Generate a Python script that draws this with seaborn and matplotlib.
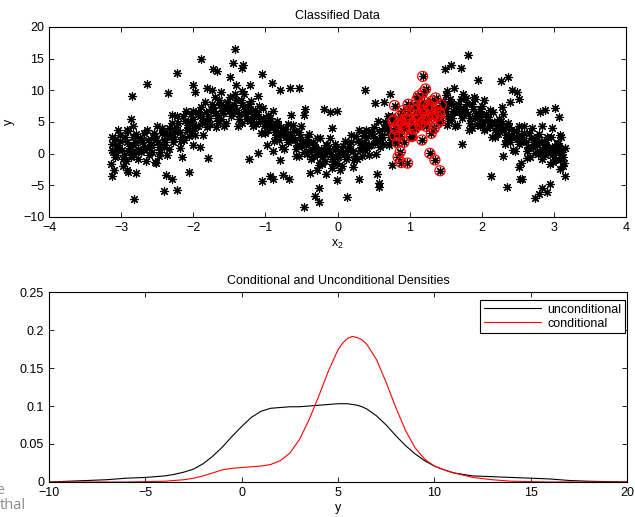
import numpy as np
import pandas as pd
import matplotlib
matplotlib.use("Agg")
import matplotlib.pyplot as plt
import seaborn as sns

# ---------------- scatter data: x_2 versus y ----------------
band_x = [
    -3.14, -3.08, -3.11, -3.06, -3.13, -3.09, -3.07, -3.12,
    -2.97, -3.04, -2.99, -3.02, -2.96, -3.01, -3.03, -2.98,
    -2.92, -2.86, -2.94, -2.89, -2.88, -2.93, -2.90, -2.87,
    -2.79, -2.83, -2.77, -2.84, -2.80, -2.76, -2.81, -2.82,
    -2.74, -2.68, -2.71, -2.66, -2.73, -2.69, -2.67, -2.72,
    -2.57, -2.64, -2.59, -2.62, -2.56, -2.61, -2.63, -2.58,
    -2.52, -2.46, -2.54, -2.49, -2.48, -2.53, -2.50, -2.47,
    -2.39, -2.43, -2.37, -2.44, -2.40, -2.36, -2.41, -2.42,
    -2.34, -2.28, -2.31, -2.26, -2.33, -2.29, -2.27, -2.32,
    -2.17, -2.24, -2.19, -2.22, -2.16, -2.21, -2.23, -2.18,
    -2.12, -2.06, -2.14, -2.09, -2.08, -2.13, -2.10, -2.07,
    -1.99, -2.03, -1.97, -2.04, -2.00, -1.96, -2.01, -2.02,
    -1.94, -1.88, -1.91, -1.86, -1.93, -1.89, -1.87, -1.92,
    -1.77, -1.84, -1.79, -1.82, -1.76, -1.81, -1.83, -1.78,
    -1.72, -1.66, -1.74, -1.69, -1.68, -1.73, -1.70, -1.67,
    -1.59, -1.63, -1.57, -1.64, -1.60, -1.56, -1.61, -1.62,
    -1.54, -1.48, -1.51, -1.46, -1.53, -1.49, -1.47, -1.52,
    -1.37, -1.44, -1.39, -1.42, -1.36, -1.41, -1.43, -1.38,
    -1.32, -1.26, -1.34, -1.29, -1.28, -1.33, -1.30, -1.27,
    -1.19, -1.23, -1.17, -1.24, -1.20, -1.16, -1.21, -1.22,
    -1.14, -1.08, -1.11, -1.06, -1.13, -1.09, -1.07, -1.12,
    -0.97, -1.04, -0.99, -1.02, -0.96, -1.01, -1.03, -0.98,
    -0.92, -0.86, -0.94, -0.89, -0.88, -0.93, -0.90, -0.87,
    -0.79, -0.83, -0.77, -0.84, -0.80, -0.76, -0.81, -0.82,
    -0.74, -0.68, -0.71, -0.66, -0.73, -0.69, -0.67, -0.72,
    -0.57, -0.64, -0.59, -0.62, -0.56, -0.61, -0.63, -0.58,
    -0.52, -0.46, -0.54, -0.49, -0.48, -0.53, -0.50, -0.47,
    -0.39, -0.43, -0.37, -0.44, -0.40, -0.36, -0.41, -0.42,
    -0.34, -0.28, -0.31, -0.26, -0.33, -0.29, -0.27, -0.32,
    -0.17, -0.24, -0.19, -0.22, -0.16, -0.21, -0.23, -0.18,
    -0.12, -0.06, -0.14, -0.09, -0.08, -0.13, -0.10, -0.07,
    0.01, -0.03, 0.03, -0.04, 0.00, 0.04, -0.01, -0.02,
    0.06, 0.12, 0.09, 0.14, 0.07, 0.11, 0.13, 0.08,
    0.23, 0.16, 0.21, 0.18, 0.24, 0.19, 0.17, 0.22,
    0.28, 0.34, 0.26, 0.31, 0.32, 0.27, 0.30, 0.33,
    0.41, 0.37, 0.43, 0.36, 0.40, 0.44, 0.39, 0.38,
    0.46, 0.52, 0.49, 0.54, 0.47, 0.51, 0.53, 0.48,
    0.63, 0.56, 0.61, 0.58, 0.64, 0.59, 0.57, 0.62,
    0.68, 0.74, 0.66, 0.71, 0.72, 0.67, 0.70, 0.73,
    0.81, 0.77, 0.83, 0.76, 0.80, 0.84, 0.79, 0.78,
    0.86, 0.92, 0.89, 0.94, 0.87, 0.91, 0.93, 0.88,
    1.03, 0.96, 1.01, 0.98, 1.04, 0.99, 0.97, 1.02,
    1.08, 1.14, 1.06, 1.11, 1.12, 1.07, 1.10, 1.13,
    1.21, 1.17, 1.23, 1.16, 1.20, 1.24, 1.19, 1.18,
    1.26, 1.32, 1.29, 1.34, 1.27, 1.31, 1.33, 1.28,
    1.43, 1.36, 1.41, 1.38, 1.44, 1.39, 1.37, 1.42,
    1.48, 1.54, 1.46, 1.51, 1.52, 1.47, 1.50, 1.53,
    1.61, 1.57, 1.63, 1.56, 1.60, 1.64, 1.59, 1.58,
    1.66, 1.72, 1.69, 1.74, 1.67, 1.71, 1.73, 1.68,
    1.83, 1.76, 1.81, 1.78, 1.84, 1.79, 1.77, 1.82,
    1.88, 1.94, 1.86, 1.91, 1.92, 1.87, 1.90, 1.93,
    2.01, 1.97, 2.03, 1.96, 2.00, 2.04, 1.99, 1.98,
    2.06, 2.12, 2.09, 2.14, 2.07, 2.11, 2.13, 2.08,
    2.23, 2.16, 2.21, 2.18, 2.24, 2.19, 2.17, 2.22,
    2.28, 2.34, 2.26, 2.31, 2.32, 2.27, 2.30, 2.33,
    2.41, 2.37, 2.43, 2.36, 2.40, 2.44, 2.39, 2.38,
    2.46, 2.52, 2.49, 2.54, 2.47, 2.51, 2.53, 2.48,
    2.63, 2.56, 2.61, 2.58, 2.64, 2.59, 2.57, 2.62,
    2.68, 2.74, 2.66, 2.71, 2.72, 2.67, 2.70, 2.73,
    2.81, 2.77, 2.83, 2.76, 2.80, 2.84, 2.79, 2.78,
    2.86, 2.92, 2.89, 2.94, 2.87, 2.91, 2.93, 2.88,
    3.03, 2.96, 3.01, 2.98, 3.04, 2.99, 2.97, 3.02,
    3.08, 3.14, 3.06, 3.11, 3.12, 3.07, 3.10, 3.13,
]
band_y = [
    -1.7, -0.6, 0.2, 0.9, 1.5, 2.3, -0.2, 0.6,
    -0.9, 1.3, 0.5, 3.0, -0.2, 2.0, 0.7, -2.0,
    1.8, -0.5, 2.6, 0.4, 1.2, -1.1, 3.5, 0.8,
    0.3, 2.6, -0.8, 1.3, 3.1, 0.7, 1.8, -0.1,
    2.5, 0.7, 1.8, -1.1, 0.3, 3.2, 1.1, 2.1,
    0.3, 3.8, 1.6, 0.9, 2.7, -0.2, 2.2, 1.3,
    2.2, 0.2, 3.3, 1.8, -0.4, 2.8, 4.3, 1.0,
    1.9, 3.2, -0.2, 4.0, 2.2, 2.8, 1.0, 3.4,
    0.8, 1.9, 2.7, 3.4, 4.0, 4.8, 2.3, 3.1,
    2.0, 4.2, 3.4, 5.9, 2.7, 4.9, 3.6, 0.9,
    5.1, 2.8, 5.9, 3.7, 4.5, 2.2, 6.8, 4.1,
    4.0, 6.3, 2.9, 5.0, 6.8, 4.4, 5.5, 3.6,
    6.6, 4.8, 5.9, 3.0, 4.4, 7.3, 5.2, 6.2,
    4.7, 8.2, 6.0, 5.3, 7.1, 4.2, 6.6, 5.7,
    6.8, 4.8, 7.9, 6.4, 4.2, 7.4, 8.9, 5.6,
    6.4, 7.7, 4.3, 8.5, 6.7, 7.3, 5.5, 7.9,
    4.9, 6.0, 6.8, 7.5, 8.1, 8.9, 6.4, 7.2,
    5.5, 7.7, 6.9, 9.4, 6.2, 8.4, 7.1, 4.4,
    7.7, 5.4, 8.5, 6.3, 7.1, 4.8, 9.4, 6.7,
    5.5, 7.8, 4.4, 6.5, 8.3, 5.9, 7.0, 5.1,
    6.9, 5.1, 6.2, 3.3, 4.7, 7.6, 5.5, 6.5,
    3.7, 7.2, 5.0, 4.3, 6.1, 3.2, 5.6, 4.7,
    4.6, 2.6, 5.7, 4.2, 2.0, 5.2, 6.7, 3.4,
    3.1, 4.4, 1.0, 5.2, 3.4, 4.0, 2.2, 4.6,
    0.7, 1.8, 2.6, 3.3, 3.9, 4.7, 2.2, 3.0,
    0.7, 2.9, 2.1, 4.6, 1.4, 3.6, 2.3, -0.4,
    2.6, 0.3, 3.4, 1.2, 2.0, -0.3, 4.3, 1.6,
    0.3, 2.6, -0.8, 1.3, 3.1, 0.7, 1.8, -0.1,
    1.8, 0.0, 1.1, -1.8, -0.4, 2.5, 0.4, 1.4,
    -1.1, 2.4, 0.2, -0.5, 1.3, -1.6, 0.8, -0.1,
    0.3, -1.7, 1.4, -0.1, -2.3, 0.9, 2.4, -0.9,
    -0.5, 0.8, -2.6, 1.6, -0.2, 0.4, -1.4, 1.0,
    -2.0, -0.9, -0.1, 0.6, 1.2, 2.0, -0.5, 0.3,
    -1.0, 1.2, 0.4, 2.9, -0.3, 1.9, 0.6, -2.1,
    2.0, -0.3, 2.8, 0.6, 1.4, -0.9, 3.7, 1.0,
    0.9, 3.2, -0.2, 1.9, 3.7, 1.3, 2.4, 0.5,
    3.5, 1.7, 2.8, -0.1, 1.3, 4.2, 2.1, 3.1,
    1.6, 5.1, 2.9, 2.2, 4.0, 1.1, 3.5, 2.6,
    3.9, 1.9, 5.0, 3.5, 1.3, 4.5, 6.0, 2.7,
    3.8, 5.1, 1.7, 5.9, 4.1, 4.7, 2.9, 5.3,
    2.8, 3.9, 4.7, 5.4, 6.0, 6.8, 4.3, 5.1,
    3.9, 6.1, 5.3, 7.8, 4.6, 6.8, 5.5, 2.8,
    6.8, 4.5, 7.6, 5.4, 6.2, 3.9, 8.5, 5.8,
    5.4, 7.7, 4.3, 6.4, 8.2, 5.8, 6.9, 5.0,
    7.6, 5.8, 6.9, 4.0, 5.4, 8.3, 6.2, 7.2,
    5.3, 8.8, 6.6, 5.9, 7.7, 4.8, 7.2, 6.3,
    7.2, 5.2, 8.3, 6.8, 4.6, 7.8, 9.3, 6.0,
    6.5, 7.8, 4.4, 8.6, 6.8, 7.4, 5.6, 8.0,
    4.6, 5.7, 6.5, 7.2, 7.8, 8.6, 6.1, 6.9,
    4.9, 7.1, 6.3, 8.8, 5.6, 7.8, 6.5, 3.8,
    7.0, 4.7, 7.8, 5.6, 6.4, 4.1, 8.7, 6.0,
    4.8, 7.1, 3.7, 5.8, 7.6, 5.2, 6.3, 4.4,
    6.2, 4.4, 5.5, 2.6, 4.0, 6.9, 4.8, 5.8,
    3.1, 6.6, 4.4, 3.7, 5.5, 2.6, 5.0, 4.1,
    4.1, 2.1, 5.2, 3.7, 1.5, 4.7, 6.2, 2.9,
    2.7, 4.0, 0.6, 4.8, 3.0, 3.6, 1.8, 4.2,
    0.4, 1.5, 2.3, 3.0, 3.6, 4.4, 1.9, 2.7,
    0.4, 2.6, 1.8, 4.3, 1.1, 3.3, 2.0, -0.7,
    2.4, 0.1, 3.2, 1.0, 1.8, -0.5, 4.1, 1.4,
    0.3, 2.6, -0.8, 1.3, 3.1, 0.7, 1.8, -0.1,
    2.0, 0.2, 1.3, -1.6, -0.2, 2.7, 0.6, 1.6,
    -0.8, 2.7, 0.5, -0.2, 1.6, -1.3, 1.1, 0.2,
    0.6, -1.4, 1.7, 0.2, -2.0, 1.2, 2.7, -0.6,
]
outlier_x = [
    -1.42, -1.89, -1.45, -1.31, -1.33, -1.72, -1.67, -2.22, -1.05, -1.49,
    -2.64, -0.91, -1.21, -1.41, -2.01, -0.80, -0.66, -0.54, -2.85, -2.35,
    -1.98, -1.81, -1.74, -1.62, -1.33, -1.10, -0.45, -0.47, -0.64, -0.19,
    -0.10, -0.01, -2.87, -2.83, -3.12, -3.04, -2.92, -2.30, -2.00, -1.91,
    -2.16, -1.80, -2.06, -2.53, -2.51, -2.38, -2.30, -2.40, -2.22, -2.82,
    -3.12, -3.10, -2.92, -2.91, -2.79, -1.23, -1.10, -0.98, -0.89, -1.05,
    -0.89, -0.93, -0.75, -0.67, -0.80, -0.46, -0.26, -0.31, -0.26, -0.38,
    -0.28, -0.16, -0.01, -0.25,
    1.81, 1.49, 1.58, 1.71, 1.18, 1.95, 2.26, 2.36, 0.38, 0.73,
    1.22, 1.18, 1.12, 1.52, 1.62, 1.74, 1.89, 2.03, 2.42, 2.49,
    2.51, 2.39, 2.28, 0.79, 0.52, 0.64, 2.81, 2.88, 3.01, 3.07,
    2.83, 2.97, 3.09, 3.16, 3.08, 3.16, 3.08, 3.09, 2.95, 2.83,
    2.80, 2.74, 2.90, 2.53, 2.56, 2.52, 2.54, 2.35, 2.13, 2.30,
    1.72, 1.42, 1.35, 1.28, 1.17, 1.30, 0.97, 0.88, 0.84, 0.87,
    0.92, 1.03, 0.75, 0.55, 0.58, 0.57, 0.30, 0.13, 0.36, -0.08,
]
outlier_y = [
    16.6, 14.9, 14.3, 14.0, 13.5, 13.3, 13.05, 12.7, 12.5, 12.05,
    10.95, 11.2, 10.9, 10.8, 10.8, 10.05, 10.3, 10.4, 9.1, 9.5,
    9.8, 10.3, 10.05, 9.7, 9.9, 9.1, 7.0, 6.1, 6.1, 7.0,
    6.6, 6.7, 5.4, 4.3, 2.7, 3.7, 3.7, 6.1, 1.4, 1.1,
    -0.6, -0.7, -2.9, -1.3, -1.5, -3.3, -4.05, -5.85, -5.75, -7.2,
    -3.6, -2.6, -2.6, -2.85, -3.1, -0.9, 0.05, 1.4, 0.4, -4.3,
    -4.05, -3.6, -3.35, -4.05, -1.0, -8.5, -5.5, -6.7, -7.6, -3.0,
    -2.6, -3.2, -4.15, -1.5,
    15.6, 13.4, 14.0, 13.6, 12.2, 11.6, 11.5, 12.05, 10.05, 9.4,
    10.2, 9.6, 9.1, 9.95, 10.4, 9.4, 9.0, 8.5, 10.05, 9.8,
    8.7, 8.2, 7.4, 7.6, 8.05, 8.2, 6.6, 6.9, 7.2, 5.85,
    4.3, 4.0, 2.95, 0.85, 0.3, -3.6, -2.4, -1.0, -4.8, -5.5,
    -6.3, -7.05, -6.0, -4.05, -4.05, -2.05, -1.5, -5.2, -3.5, -0.4,
    1.6, -2.7, -1.0, 0.05, 2.15, 3.2, -1.5, -1.4, -0.55, 0.3,
    1.8, 2.7, -1.8, -3.2, -4.7, -5.2, -4.0, -6.8, 2.95, 4.0,
]
# x_2 window that defines the conditioning class
class_lo, class_hi = 0.77, 1.455

# ---------------- density curves ----------------
grid_y = [-10, -9, -8, -7, -6, -5, -4, -3.5, -3, -2.5, -2, -1.5, -1, -0.5,
          0, 0.5, 1, 1.5, 2, 2.5, 3, 3.5, 4, 4.5, 5, 5.25, 5.5, 5.75, 6,
          6.25, 6.5, 7, 7.5, 8, 8.5, 9, 9.5, 10, 10.5, 11, 12, 13, 14, 15,
          16, 17, 18, 19, 20]
dens_uncond = [0.000, 0.001, 0.002, 0.003, 0.005, 0.006, 0.008, 0.010, 0.013,
               0.017, 0.024, 0.034, 0.046, 0.060, 0.073, 0.085, 0.093, 0.097,
               0.098, 0.099, 0.099, 0.100, 0.101, 0.102, 0.103, 0.103, 0.103,
               0.102, 0.101, 0.099, 0.096, 0.087, 0.075, 0.061, 0.048, 0.037,
               0.028, 0.021, 0.016, 0.012, 0.008, 0.007, 0.006, 0.005, 0.004,
               0.002, 0.001, 0.0005, 0.000]
dens_cond = [0.000, 0.000, 0.000, 0.000, 0.000, 0.0005, 0.001, 0.002, 0.003,
             0.005, 0.008, 0.012, 0.016, 0.018, 0.019, 0.020, 0.021, 0.023,
             0.028, 0.038, 0.056, 0.082, 0.113, 0.146, 0.174, 0.183, 0.189,
             0.1915, 0.190, 0.187, 0.181, 0.161, 0.131, 0.098, 0.068, 0.045,
             0.030, 0.021, 0.016, 0.012, 0.006, 0.003, 0.001, 0.0005, 0.000,
             0.000, 0.000, 0.000, 0.000]

# ---------------- styling ----------------
sns.set_style("ticks")
plt.rcParams.update({
    "font.family": ["Liberation Sans", "DejaVu Sans"],
    "font.size": 9,
    "axes.linewidth": 0.8,
    "axes.edgecolor": "black",
    "xtick.direction": "in",
    "ytick.direction": "in",
    "xtick.top": True,
    "ytick.right": True,
    "xtick.major.size": 3.5,
    "ytick.major.size": 3.5,
    "xtick.major.width": 0.6,
    "ytick.major.width": 0.6,
    "xtick.color": "black",
    "ytick.color": "black",
    "text.color": "black",
    "axes.labelcolor": "black",
    "mathtext.fontset": "custom",
    "mathtext.rm": "Liberation Sans",
    "mathtext.it": "Liberation Sans",
})

scatter_df = pd.DataFrame({
    "x2": band_x + outlier_x,
    "y": band_y + outlier_y,
})
scatter_df["in_class"] = scatter_df["x2"].between(class_lo, class_hi)
cls_df = scatter_df[scatter_df["in_class"]]

dens_df = pd.DataFrame({
    "y": grid_y * 2,
    "density": dens_uncond + dens_cond,
    "kind": ["unconditional"] * len(grid_y) + ["conditional"] * len(grid_y),
})

fig = plt.figure(figsize=(6.35, 5.17), dpi=100)
ax1 = fig.add_axes([0.0772, 0.5803, 0.9087, 0.3675])
ax2 = fig.add_axes([0.0772, 0.0677, 0.9102, 0.3675])

# top panel: all points as asterisks, the class members ringed in red
sns.scatterplot(data=scatter_df, x="x2", y="y", ax=ax1, marker=(8, 2, 0),
                color="black", s=34, linewidth=0.85, legend=False, zorder=2)
sns.scatterplot(data=cls_df, x="x2", y="y", ax=ax1, marker="o",
                facecolor="none", edgecolor="#ff0000", s=52, linewidth=0.9,
                legend=False, zorder=3)
ax1.set_xlim(-4, 4)
ax1.set_ylim(-10, 20)
ax1.set_xticks(range(-4, 5))
ax1.set_yticks(range(-10, 21, 5))
ax1.set_xticklabels(["\u22124", "\u22123", "\u22122", "\u22121", "0", "1", "2", "3", "4"])
ax1.set_yticklabels(["\u221210", "\u22125", "0", "5", "10", "15", "20"])
ax1.set_title("Classified Data", fontsize=9, pad=6)
ax1.set_xlabel(r"x$_{2}$", labelpad=3)
ax1.set_ylabel("y", labelpad=6)

# bottom panel: the two density curves
sns.lineplot(data=dens_df, x="y", y="density", hue="kind",
             palette={"unconditional": "black", "conditional": "#ff0000"},
             linewidth=0.8, ax=ax2, sort=False)
ax2.set_xlim(-10, 20)
ax2.set_ylim(0, 0.25)
ax2.set_xticks(range(-10, 21, 5))
ax2.set_xticklabels(["\u221210", "\u22125", "0", "5", "10", "15", "20"])
ax2.set_yticks([0, 0.05, 0.1, 0.15, 0.2, 0.25])
ax2.set_yticklabels(["0", "0.05", "0.1", "0.15", "0.2", "0.25"])
ax2.set_title("Conditional and Unconditional Densities", fontsize=9, pad=6)
ax2.set_xlabel("y", labelpad=2)
ax2.set_ylabel("")
leg = ax2.legend(loc="upper right", bbox_to_anchor=(0.997, 0.958),
                 borderaxespad=0, fancybox=False, frameon=True,
                 handlelength=4.6, handletextpad=0.5, borderpad=0.3,
                 labelspacing=0.15, fontsize=9)
leg.get_frame().set_edgecolor("black")
leg.get_frame().set_linewidth(0.8)
leg.get_frame().set_alpha(1)

for ax in (ax1, ax2):
    for sp in ax.spines.values():
        sp.set_visible(True)
        sp.set_color("black")

# grey text fragments at the lower-left edge of the page
fig.text(-0.006, 0.044, "e", color="#8a8a8a", fontsize=10,
         family=["Open Sans", "DejaVu Sans"])
fig.text(-0.001, 0.016, "thal", color="#8a8a8a", fontsize=10.5,
         family=["Open Sans", "DejaVu Sans"])

fig.savefig("out.png", dpi=100)
